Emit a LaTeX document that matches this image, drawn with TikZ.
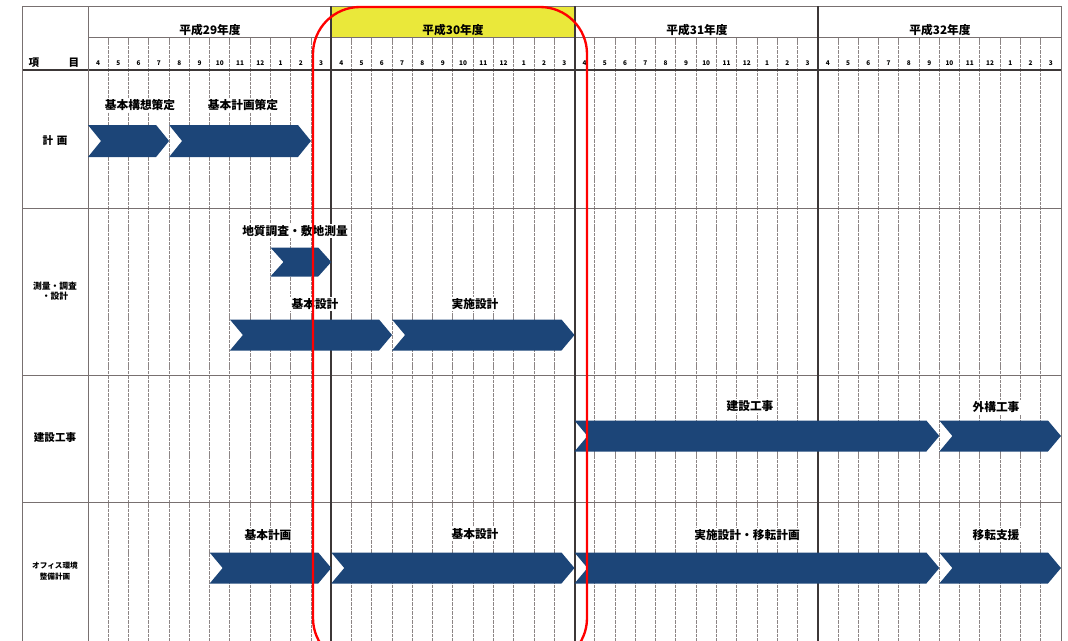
\documentclass[tikz,border=0pt]{standalone}
\usepackage{fontspec}
\setmainfont{Noto Sans CJK JP}
\usetikzlibrary{positioning}

\definecolor{barblue}{RGB}{28,69,120}
\definecolor{hdryellow}{RGB}{234,232,58}
\definecolor{gridgray}{RGB}{120,112,112}
\definecolor{yeargray}{RGB}{60,55,55}

% chevron bar: start month, end month, centre y, half height
\newcommand{\chev}[4]{%
  \fill[barblue] ({88+#1*20.27},{#3-#4}) -- ({88+#2*20.27-13},{#3-#4})
    -- ({88+#2*20.27},#3) -- ({88+#2*20.27-13},{#3+#4})
    -- ({88+#1*20.27},{#3+#4}) -- ({88+#1*20.27+13},#3) -- cycle;}

\tikzset{
  lbl/.style={fill=white, inner sep=1.5pt, font=\bfseries\fontsize{10}{12}\selectfont},
  item/.style={align=center, inner sep=1pt, font=\bfseries\fontsize{9}{10}\selectfont},
  yr/.style={inner sep=1pt, font=\bfseries\fontsize{10}{12}\selectfont},
  mon/.style={inner sep=0pt, font=\bfseries\fontsize{5.5}{6}\selectfont},
}

\begin{document}
\begin{tikzpicture}[x=0.03cm, y=-0.03cm]
        \useasboundingbox (0,0) rectangle (1068,640);
        \clip (0,0) rectangle (1068,640);

        % header of 平成30年度
        \fill[hdryellow] (331,6) rectangle (575,37);

        % month lines
        \foreach \m in {1,...,47} {
            \draw[gridgray!85, dash pattern=on 3pt off 0.8pt, line width=0.7pt] ({88+\m*20.27},37) -- ({88+\m*20.27},645);
        }
        % rows
        \draw[gridgray, line width=0.8pt] (22,6) -- (1061,6);
        \draw[gridgray, line width=0.6pt] (88,37) -- (1061,37);
        \draw[yeargray, line width=1pt] (22,70) -- (1061,70);
        \draw[gridgray, line width=0.8pt] (22,208) -- (1061,208);
        \draw[gridgray, line width=0.8pt] (22,375) -- (1061,375);
        \draw[gridgray, line width=0.8pt] (22,502) -- (1061,502);
        \draw[gridgray, line width=0.8pt] (22,6) -- (22,645);
        \draw[gridgray, line width=0.8pt] (88,6) -- (88,645);
        \draw[gridgray, line width=0.8pt] (1061,6) -- (1061,645);
        % year lines
        \foreach \yx in {331,575,818} {
            \draw[yeargray, line width=1.2pt] (\yx,6) -- (\yx,645);
        }

        % header texts
        \node[item] (kou) at (34,63) {項};
        \node[item] (moku) at (74,63) {目};
        \node[yr] (y29) at (210,30) {平成29年度};
        \node[yr] (y30) at (453,30) {平成30年度};
        \node[yr] (y31) at (697,30) {平成31年度};
        \node[yr] (y32) at (940,30) {平成32年度};
        \foreach \yy in {0,1,2,3} {
            \foreach \mm [count=\i from 0] in {4,5,6,7,8,9,10,11,12,1,2,3} {
                \node[mon] (m\yy-\i) at ({88+(\yy*12+\i+0.5)*20.27},63) {\mm};
            }
        }

        % item column
        \node[item] (keikaku) at (55,141) {計\,\,画};
        \node[item, font=\bfseries\fontsize{7.5}{9}\selectfont] (sokuryo) at (55,291) {測量・調査\\・設計};
        \node[item] (kensetsu) at (55,438) {建設工事};
        \node[item, font=\bfseries\fontsize{6.5}{9}\selectfont] (office) at (55,571) {オフィス環境\\整備計画};

        % bars
        \chev{0}{4}{141}{16}
        \chev{4}{11}{141}{16}
        \chev{9}{12}{262}{14.5}
        \chev{7}{15}{335}{15.5}
        \chev{15}{24}{335}{15.5}
        \chev{24}{42}{436}{15.5}
        \chev{42}{48}{436}{15.5}
        \chev{6}{12}{568}{15.5}
        \chev{12}{24}{568}{15.5}
        \chev{24}{42}{568}{15.5}
        \chev{42}{48}{568}{15.5}

        % bar labels
        \node[lbl] (kousou) at (140,105) {基本構想策定};
        \node[lbl] (kihonsakutei) at (243,105) {基本計画策定};
        \node[lbl] (chishitsu) at (295,231) {地質調査・敷地測量};
        \node[lbl] (kihonsekkei) at (315,304) {基本設計};
        \node[lbl] (jisshi) at (475,304) {実施設計};
        \node[lbl] (kenchiku) at (750,406) {建設工事};
        \node[lbl] (gaikou) at (996,407) {外構工事};
        \node[lbl] (okihon) at (268,535) {基本計画};
        \node[lbl] (osekkei) at (475,534) {基本設計};
        \node[lbl] (oiten) at (747,535) {実施設計・移転計画};
        \node[lbl] (shien) at (996,535) {移転支援};

        % focus on 平成30年度
        \draw[red, line width=2pt, rounded corners=40] (313,7) rectangle (587,665);
    \end{tikzpicture}
\end{document}
